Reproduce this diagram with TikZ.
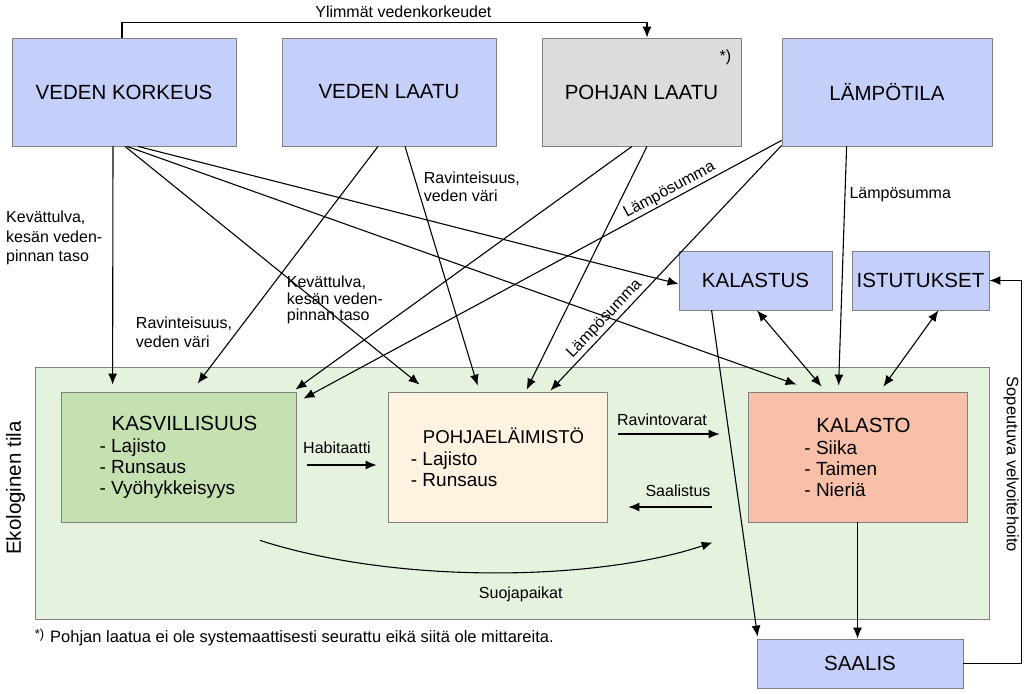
\documentclass[tikz,border=0pt]{standalone}
\usepackage{fontspec}
\setmainfont{Liberation Sans}
\usetikzlibrary{arrows.meta}
\definecolor{boxblue}{RGB}{196,207,250}
\definecolor{boxgray}{RGB}{220,220,220}
\definecolor{areagreen}{RGB}{229,242,222}
\definecolor{kasvigreen}{RGB}{197,225,177}
\definecolor{pohjacream}{RGB}{254,242,225}
\definecolor{kalasalmon}{RGB}{248,192,168}
\definecolor{edgegray}{RGB}{128,128,128}
\begin{document}
\begin{tikzpicture}[x=1pt, y=-1pt,
  box/.style={draw=edgegray, line width=0.8pt, fill=boxblue, minimum height=108pt,
    font=\fontsize{20.5}{24}\selectfont},
  itembox/.style={draw=edgegray, line width=0.8pt, minimum height=130pt, minimum width=219pt,
    align=left, font=\fontsize{19}{21}\selectfont},
  lbl/.style={inner sep=0pt, align=left, font=\fontsize{16}{18}\selectfont},
  arr/.style={-{Latex[length=11pt,width=9pt]}, line width=1.1pt},
  dblarr/.style={{Latex[length=11pt,width=9pt]}-{Latex[length=11pt,width=9pt]}, line width=1.1pt}]
\useasboundingbox (0,0) rectangle (1024,693);
% ekologinen tila
\node[draw=edgegray, line width=0.8pt, fill=areagreen, minimum width=954, minimum height=252] (ekol) at (512,493) {};
\node[lbl, rotate=90, font=\fontsize{20.5}{24}\selectfont] (ekolname) at ([xshift=-19,yshift=5]ekol.west) {Ekologinen tila};
% top row
\node[box, minimum width=224] (korkeus) at (124,92) {VEDEN KORKEUS};
\node[box, minimum width=214] (laatu) at (389,92) {VEDEN LAATU};
\node[box, fill=boxgray, minimum width=199] (pohja) at (641.5,92) {POHJAN LAATU};
\node[lbl] (pohjanote) at ([xshift=-16,yshift=-20]pohja.north east) {*)};
\node[box, minimum width=210] (lampo) at (887,92) {LÄMPÖTILA};
% middle row
\node[box, minimum width=153, minimum height=59] (kalastus) at (755.5,280.5) {KALASTUS};
\node[box, minimum width=137, minimum height=59] (istutukset) at (920.5,280.5) {ISTUTUKSET};
\node[itembox, fill=kasvigreen, minimum width=235] (kasvi) at (178.5,457)
  {\hspace*{12pt}{\fontsize{20.5}{22}\selectfont KASVILLISUUS}\\[1pt]- Lajisto\\- Runsaus\\- Vyöhykkeisyys};
\node[itembox, fill=pohjacream] (pohjael) at (497.5,457)
  {\hspace*{12pt}{\fontsize{18.6}{22}\selectfont POHJAELÄIMISTÖ}\\[1pt]- Lajisto\\- Runsaus};
\node[itembox, fill=kalasalmon] (kalasto) at (857.5,457)
  {\hspace*{12pt}{\fontsize{20.5}{22}\selectfont KALASTO}\\[1pt]- Siika\\- Taimen\\- Nieriä};
\node[box, minimum width=206, minimum height=49] (saalis) at (860,663.5) {SAALIS};
% footnote
\node[lbl, anchor=west, font=\fontsize{16.5}{18}\selectfont] (alaviite) at ([yshift=-18]ekol.south west)
  {\raisebox{4pt}{\fontsize{13}{13}\selectfont*)}\hspace{6pt}Pohjan laatua ei ole systemaattisesti seurattu eikä siitä ole mittareita.};
% veden korkeus
\draw[arr] ([xshift=-2]korkeus.north) -- ++(0,-15)
  -| node[lbl, pos=0.268, above=4pt] (lblylin) {Ylimmät vedenkorkeudet} ([xshift=5.5]pohja.north);
\draw[arr] ([xshift=-11]korkeus.south) -- node[lbl, pos=0.385, left=10pt, font=\fontsize{16}{19.5}\selectfont] (lblkevat) {Kevättulva,\\kesän veden-\\pinnan taso} ([xshift=52,yshift=7]kasvi.north west);
\draw[arr] ([xshift=1]korkeus.south) -- node[lbl, pos=0.646, anchor=west, xshift=-29pt, font=\fontsize{16}{16.5}\selectfont] (lblkevat2) {Kevättulva,\\kesän veden-\\pinnan taso} ([xshift=32,yshift=7]pohjael.north west);
\draw[arr] ([xshift=3]korkeus.south) -- ([xshift=49,yshift=7]kalasto.north west);
\draw[arr] ([xshift=14]korkeus.south) -- ([yshift=-3.5]kalastus.west);
% veden laatu
\draw[arr] ([xshift=-11]laatu.south) -- node[lbl, pos=0.784, left=4pt, font=\fontsize{16}{18.5}\selectfont] (lblravi) {Ravinteisuus,\\veden väri} ([xshift=137,yshift=8]kasvi.north west);
\draw[arr] ([xshift=16]laatu.south) -- node[lbl, pos=0.169, right=6pt, font=\fontsize{16}{17.5}\selectfont] (lblravi2) {Ravinteisuus,\\veden väri} ([xshift=90,yshift=6]pohjael.north west);
% pohjan laatu
\draw[arr] ([xshift=-9.5]pohja.south) -- ([xshift=-1,yshift=2]kasvi.north east);
\draw[arr] ([xshift=5.5]pohja.south) -- ([xshift=139,yshift=2]pohjael.north west);
% lampotila
\draw[arr] ([yshift=6]lampo.south west) -- node[lbl, pos=0.225, sloped, above=1.5pt] (lbllampo) {Lämpösumma} ([xshift=7,yshift=-7]kasvi.north east);
\draw[arr] ([yshift=1]lampo.south west) -- node[lbl, pos=0.735, sloped, above=2pt] (lbllampo2) {Lämpösumma} ([xshift=-57,yshift=1]pohjael.north east);
\draw[arr] ([xshift=65]lampo.south west) -- node[lbl, pos=0.2, right=4pt] (lbllampo3) {Lämpösumma} ([xshift=91,yshift=6]kalasto.north west);
% kalastus, istutukset, saalis
\draw[dblarr] ([xshift=1.5]kalastus.south) -- ([xshift=74,yshift=5]kalasto.north west);
\draw[dblarr] ([xshift=-51]istutukset.south east) -- ([xshift=-84,yshift=5]kalasto.north east);
\draw[arr] ([xshift=33]kalastus.south west) -- ([xshift=1,yshift=2]saalis.north west);
\draw[arr] (kalasto.south) -- (kalasto.south |- saalis.north);
\draw[arr] (saalis.east) -- ++(58,0)
  |- node[lbl, pos=0.26, rotate=-90, anchor=north, inner sep=2pt, font=\fontsize{16.5}{18}\selectfont] (lblsopeu) {Sopeutuva velvoitehoito} (istutukset.east);
% inside
\draw[arr] ([xshift=11,yshift=-8]kasvi.east) -- node[lbl, midway, above=11pt, xshift=-5pt] (lblhabi) {Habitaatti} ([xshift=-11,yshift=-8]pohjael.west);
\draw[arr] ([xshift=11,yshift=23]pohjael.east) -- node[lbl, midway, above=8pt, xshift=-7pt] (lblravint) {Ravintovarat} ([xshift=-28,yshift=23]kalasto.west);
\draw[arr] ([xshift=-36,yshift=-50]kalasto.west) -- node[lbl, midway, above=10pt, xshift=8pt] (lblsaal) {Saalistus} ([xshift=21,yshift=-50]pohjael.east);
\draw[arr] ([xshift=81.5,yshift=-18]kasvi.south) .. controls +(140,45) and +(-113,38) ..
  node[lbl, pos=0.55, below=14pt] (lblsuoja) {Suojapaikat} ([xshift=-35,yshift=-20]kalasto.south west);
\end{tikzpicture}
\end{document}
